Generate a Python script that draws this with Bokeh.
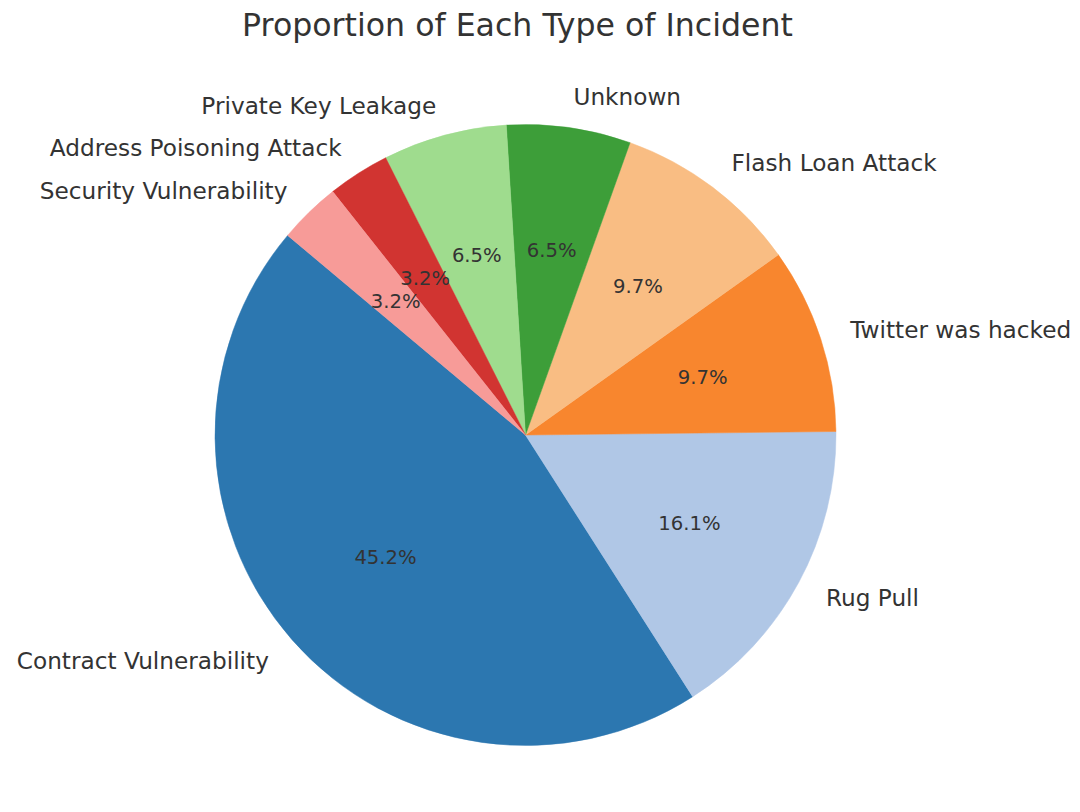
import numpy as np
from bokeh.plotting import figure
from bokeh.models import Range1d, ColumnDataSource
from bokeh.core.properties import value
from bokeh.embed import file_html
from bokeh.resources import INLINE

incident_types = [
    'Contract Vulnerability',
    'Rug Pull',
    'Twitter was hacked',
    'Flash Loan Attack',
    'Unknown',
    'Private Key Leakage',
    'Address Poisoning Attack',
    'Security Vulnerability',
]
incident_counts = [14, 5, 3, 3, 2, 2, 1, 1]
slice_colors = ['#2c77b0', '#b0c7e6', '#f8862e', '#f9bd83',
                '#3d9e39', '#9fdc8e', '#d13431', '#f79b98']
chart_title = 'Proportion of Each Type of Incident'

# layout (data units = screen pixels, y pointing up)
cx, cy, radius = 525, 377.5, 310.5
start_deg = 140
font = value('DejaVu Sans')
text_color = '#333333'

counts = np.array(incident_counts, dtype=float)
frac = counts / counts.sum()
ends = start_deg + 360 * np.cumsum(frac)
starts = ends - 360 * frac
mids = np.radians((starts + ends) / 2)

src = ColumnDataSource(dict(
    start=np.radians(starts), end=np.radians(ends), color=slice_colors,
))

p = figure(width=1072, height=796, output_backend='svg', toolbar_location=None,
           x_range=Range1d(0, 1072), y_range=Range1d(16, 812),
           x_axis_type=None, y_axis_type=None, min_border=0,
           outline_line_color=None, background_fill_color='white')
p.grid.visible = False

p.wedge(x=cx, y=cy, radius=radius, start_angle='start', end_angle='end',
        fill_color='color', line_color='color', line_width=0.5, source=src)

# category labels outside the pie
lx = cx + 1.1 * radius * np.cos(mids)
ly = cy + 1.1 * radius * np.sin(mids)
right_side = np.cos(mids) > 0
for side, align in ((right_side, 'left'), (~right_side, 'right')):
    p.text(x=lx[side], y=ly[side],
           text=[t for t, s in zip(incident_types, side) if s],
           text_font=font, text_font_size='23.2px', text_color=text_color,
           text_align=align, text_baseline='middle')

# percentage labels inside
px = cx + 0.6 * radius * np.cos(mids)
py = cy + 0.6 * radius * np.sin(mids)
p.text(x=px, y=py, text=['%.1f%%' % (f * 100) for f in frac],
       text_font=font, text_font_size='19.6px', text_color=text_color,
       text_align='center', text_baseline='middle')

p.text(x=[517], y=[788], text=[chart_title], text_font=font,
       text_font_size='31.6px', text_color=text_color,
       text_align='center', text_baseline='middle')

open('out.html', 'w').write(file_html(p, INLINE))
